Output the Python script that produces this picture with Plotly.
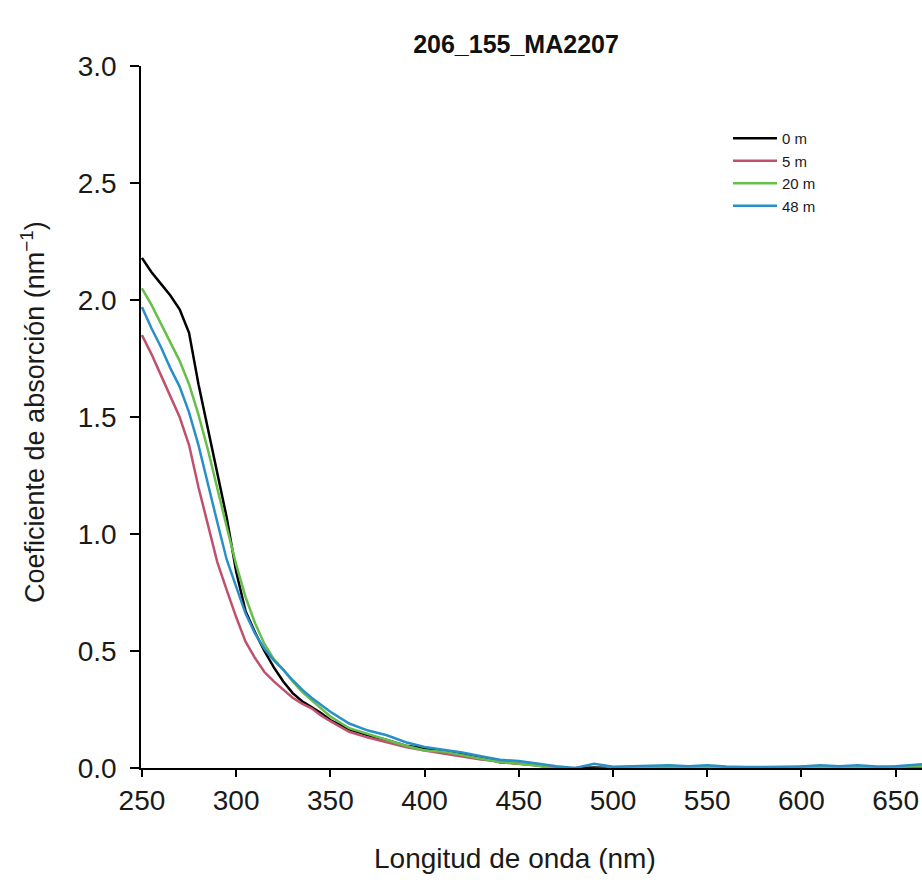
import plotly.graph_objects as go

wavelength = [250, 255, 260, 265, 270, 275, 280, 285, 290, 295, 300, 305, 310, 315, 320, 325, 330, 335, 340, 345,
              350, 360, 370, 380, 390, 400, 410, 420, 430, 440, 450, 460, 470, 480, 490, 500, 510, 520, 530, 540,
              550, 560, 570, 580, 590, 600, 610, 620, 630, 640, 650, 660, 664]

abs_0m = [2.18, 2.12, 2.07, 2.02, 1.96, 1.86, 1.64, 1.45, 1.27, 1.07, 0.84, 0.67, 0.58, 0.50, 0.43, 0.37, 0.32, 0.285, 0.26, 0.235,
          0.205, 0.165, 0.14, 0.12, 0.095, 0.085, 0.075, 0.06, 0.045, 0.025, 0.02, 0.012, -0.003, 0.0, 0.002, 0.0, 0.003, 0.005, 0.004, 0.002,
          0.003, -0.002, 0.0, 0.003, 0.002, 0.004, 0.003, 0.006, 0.002, -0.002, 0.003, 0.006, 0.008]

abs_5m = [1.85, 1.77, 1.68, 1.59, 1.50, 1.38, 1.20, 1.04, 0.88, 0.76, 0.645, 0.54, 0.47, 0.41, 0.37, 0.335, 0.30, 0.275, 0.255, 0.225,
          0.20, 0.155, 0.13, 0.11, 0.09, 0.075, 0.062, 0.048, 0.036, 0.028, 0.02, 0.012, 0.004, -0.006, -0.004, 0.0, 0.002, 0.004, 0.006, 0.003,
          0.004, 0.0, -0.003, 0.001, 0.003, 0.004, 0.004, 0.005, 0.003, 0.0, 0.004, 0.006, 0.008]

abs_20m = [2.05, 1.98, 1.90, 1.82, 1.74, 1.64, 1.51, 1.36, 1.19, 1.03, 0.87, 0.73, 0.62, 0.53, 0.465, 0.42, 0.37, 0.325, 0.29, 0.255,
           0.22, 0.17, 0.145, 0.12, 0.095, 0.075, 0.07, 0.055, 0.04, 0.025, 0.018, 0.01, -0.005, -0.015, -0.012, 0.0, 0.004, 0.006, 0.008, 0.005,
           0.004, -0.004, -0.008, 0.0, 0.003, 0.006, 0.004, 0.005, 0.004, 0.002, 0.005, 0.008, 0.01]

abs_48m = [1.97, 1.88, 1.80, 1.71, 1.63, 1.52, 1.38, 1.21, 1.05, 0.89, 0.77, 0.66, 0.575, 0.51, 0.46, 0.42, 0.375, 0.335, 0.30, 0.27,
           0.24, 0.19, 0.16, 0.14, 0.11, 0.09, 0.078, 0.066, 0.05, 0.035, 0.03, 0.018, 0.008, 0.0, 0.018, 0.005, 0.006, 0.01, 0.012, 0.008,
           0.012, 0.006, 0.004, 0.004, 0.006, 0.006, 0.012, 0.008, 0.012, 0.006, 0.008, 0.012, 0.016]

series_names = ["0 m", "5 m", "20 m", "48 m"]
series_values = [abs_0m, abs_5m, abs_20m, abs_48m]
series_colors = ["#000000", "#C0506E", "#67BF4B", "#2A8FC7"]

x_ticks = [250, 300, 350, 400, 450, 500, 550, 600, 650]
y_ticks = [0.0, 0.5, 1.0, 1.5, 2.0, 2.5, 3.0]

FONT = "Liberation Sans, Arial, sans-serif"
W, H = 922, 882
L, R, T, B = 141, 0, 66, 114
PW, PH = W - L - R, H - T - B

fig = go.Figure()
for name, vals, col in zip(series_names, series_values, series_colors):
    fig.add_trace(go.Scatter(x=wavelength, y=vals, mode="lines", name=name,
                             line=dict(color=col, width=2.5)))

def px_x(px):
    return (px - L) / PW

def px_y(py):
    return (H - B - py) / PH

fig.update_layout(
    width=W, height=H,
    margin=dict(l=L, r=R, t=T, b=B, pad=0),
    paper_bgcolor="white", plot_bgcolor="white",
    font=dict(family=FONT, color="#1a1a1a"),
    showlegend=True,
    legend=dict(x=px_x(728), y=px_y(122), xanchor="left", yanchor="top",
                font=dict(size=15, family=FONT), bgcolor="rgba(0,0,0,0)",
                itemwidth=44, tracegroupgap=0),
    title=dict(text="<b>206_155_MA2207</b>", x=516 / W, xref="container", xanchor="center",
               y=1 - 44 / H, yref="container", yanchor="middle",
               font=dict(size=25, family=FONT, color="#111")),
    xaxis=dict(range=[249.5, 664.0], tickvals=x_ticks, ticktext=[str(v) for v in x_ticks],
               showgrid=False, zeroline=False, showline=True, linecolor="black", linewidth=1.5,
               ticks="outside", ticklen=7, tickwidth=1.5, tickcolor="black",
               tickfont=dict(size=28, family=FONT, color="#1a1a1a"), ticklabelstandoff=0),
    yaxis=dict(range=[0, 3.0], tickvals=y_ticks, ticktext=[f"{v:.1f}" for v in y_ticks],
               showgrid=False, zeroline=False, showline=True, linecolor="black", linewidth=1.5,
               ticks="outside", ticklen=9, tickwidth=1.5, tickcolor="black",
               tickfont=dict(size=28, family=FONT, color="#1a1a1a"), ticklabelstandoff=8),
    annotations=[
        dict(text="Longitud de onda (nm)", x=px_x(515), y=px_y(858), xref="paper", yref="paper",
             xanchor="center", yanchor="middle", showarrow=False,
             font=dict(size=28, family=FONT, color="#1a1a1a")),
        dict(text="Coeficiente de absorción (nm<sup>−1</sup>)", x=px_x(33), y=px_y(412),
             xref="paper", yref="paper", xanchor="center", yanchor="middle", showarrow=False,
             textangle=-90, font=dict(size=27, family=FONT, color="#1a1a1a")),
    ],
)

fig.write_html("out.html", config={"displayModeBar": False},
               post_script="document.body.style.margin='0';document.body.style.overflow='hidden';")
